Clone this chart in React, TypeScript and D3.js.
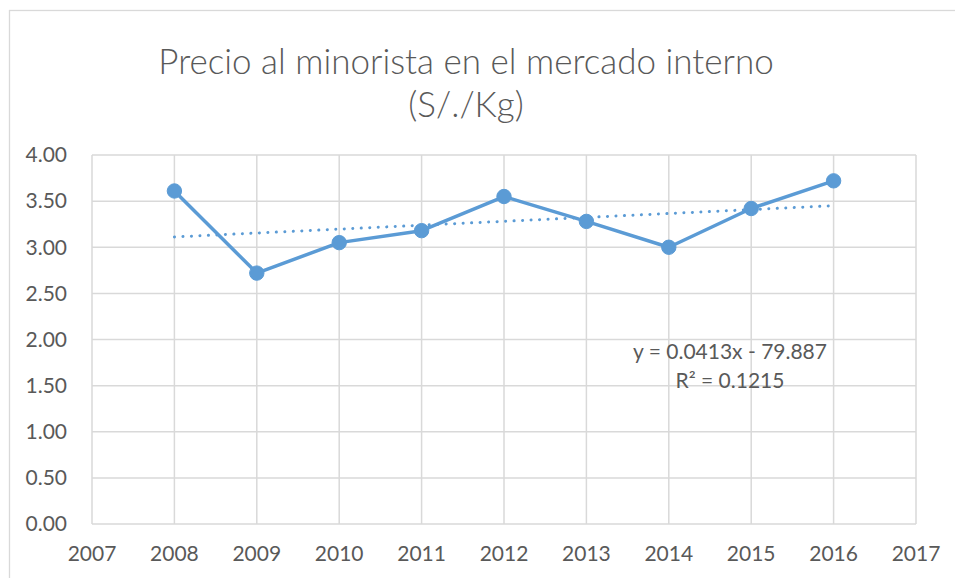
import React from "react";
import * as d3 from "d3";

// values
const years = [2008, 2009, 2010, 2011, 2012, 2013, 2014, 2015, 2016];
const prices = [3.61, 2.72, 3.05, 3.18, 3.55, 3.28, 3.0, 3.42, 3.72];
const xTicks = [2007, 2008, 2009, 2010, 2011, 2012, 2013, 2014, 2015, 2016, 2017];
const yTicks = [0, 0.5, 1, 1.5, 2, 2.5, 3, 3.5, 4];
const titleLines = ["Precio al minorista en el mercado interno", "(S/./Kg)"];
const eqLines = ["y = 0.0413x - 79.887", "R² = 0.1215"];

const blue = "#5B9BD5";
const grid = "#D9D9D9";
const textCol = "#595959";
const font = "Lato, 'Open Sans', sans-serif";

export default function App() {
  const width = 955;
  const height = 578;
  const margin = { top: 155, right: 39, bottom: 54, left: 92 };

  const x = d3
    .scaleLinear()
    .domain([2007, 2017])
    .range([margin.left, width - margin.right]);
  const y = d3
    .scaleLinear()
    .domain([0, 4])
    .range([height - margin.bottom, margin.top]);

  // linear trend (least squares)
  const mx = d3.mean(years) as number;
  const my = d3.mean(prices) as number;
  let sxy = 0;
  let sxx = 0;
  years.forEach((yr, i) => {
    sxy += (yr - mx) * (prices[i] - my);
    sxx += (yr - mx) * (yr - mx);
  });
  const slope = sxy / sxx;
  const icpt = my - slope * mx;
  const x0 = years[0];
  const x1 = years[years.length - 1];

  const line = d3
    .line<number>()
    .x((d, i) => x(years[i]))
    .y((d) => y(d));

  return (
    <svg
      width={width}
      height={height}
      style={{ position: "absolute", left: 0, top: 0, background: "#fff" }}
    >
      <rect x={9.5} y={10.5} width={1000} height={1000} fill="#fff" stroke={grid} strokeWidth={1.3} />

      {titleLines.map((t, i) => (
        <text
          key={t}
          x={466}
          y={74 + i * 43}
          textAnchor="middle"
          fontFamily={font}
          fontWeight={300}
          fontSize={35}
          fill={textCol}
        >
          {t}
        </text>
      ))}

      {yTicks.map((t) => (
        <g key={"y" + t}>
          <line x1={x(2007)} x2={x(2017)} y1={y(t)} y2={y(t)} stroke={grid} strokeWidth={1.5} />
          <text
            x={67}
            y={y(t)}
            dy="0.35em"
            textAnchor="end"
            fontFamily={font}
            fontSize={21}
            fill={textCol}
          >
            {t.toFixed(2)}
          </text>
        </g>
      ))}

      {xTicks.map((t) => (
        <g key={"x" + t}>
          <line x1={x(t)} x2={x(t)} y1={y(0)} y2={y(4)} stroke={grid} strokeWidth={1.5} />
          <text
            x={x(t)}
            y={y(0) + 30}
            dy="0.35em"
            textAnchor="middle"
            fontFamily={font}
            fontSize={21}
            fill={textCol}
          >
            {t}
          </text>
        </g>
      ))}

      <line
        x1={x(x0)}
        x2={x(x1)}
        y1={y(slope * x0 + icpt)}
        y2={y(slope * x1 + icpt)}
        stroke={blue}
        strokeWidth={3}
        strokeLinecap="round"
        strokeDasharray="0.1 8.4"
      />

      <path d={line(prices) || ""} fill="none" stroke={blue} strokeWidth={3.5} strokeLinejoin="round" />
      {prices.map((p, i) => (
        <circle key={"c" + i} cx={x(years[i])} cy={y(p)} r={7.2} fill={blue} stroke={blue} />
      ))}

      {eqLines.map((t, i) => (
        <text
          key={t}
          x={730}
          y={352 + i * 29}
          dy="0.35em"
          textAnchor="middle"
          fontFamily={font}
          fontSize={21}
          fill={textCol}
        >
          {t}
        </text>
      ))}
    </svg>
  );
}
